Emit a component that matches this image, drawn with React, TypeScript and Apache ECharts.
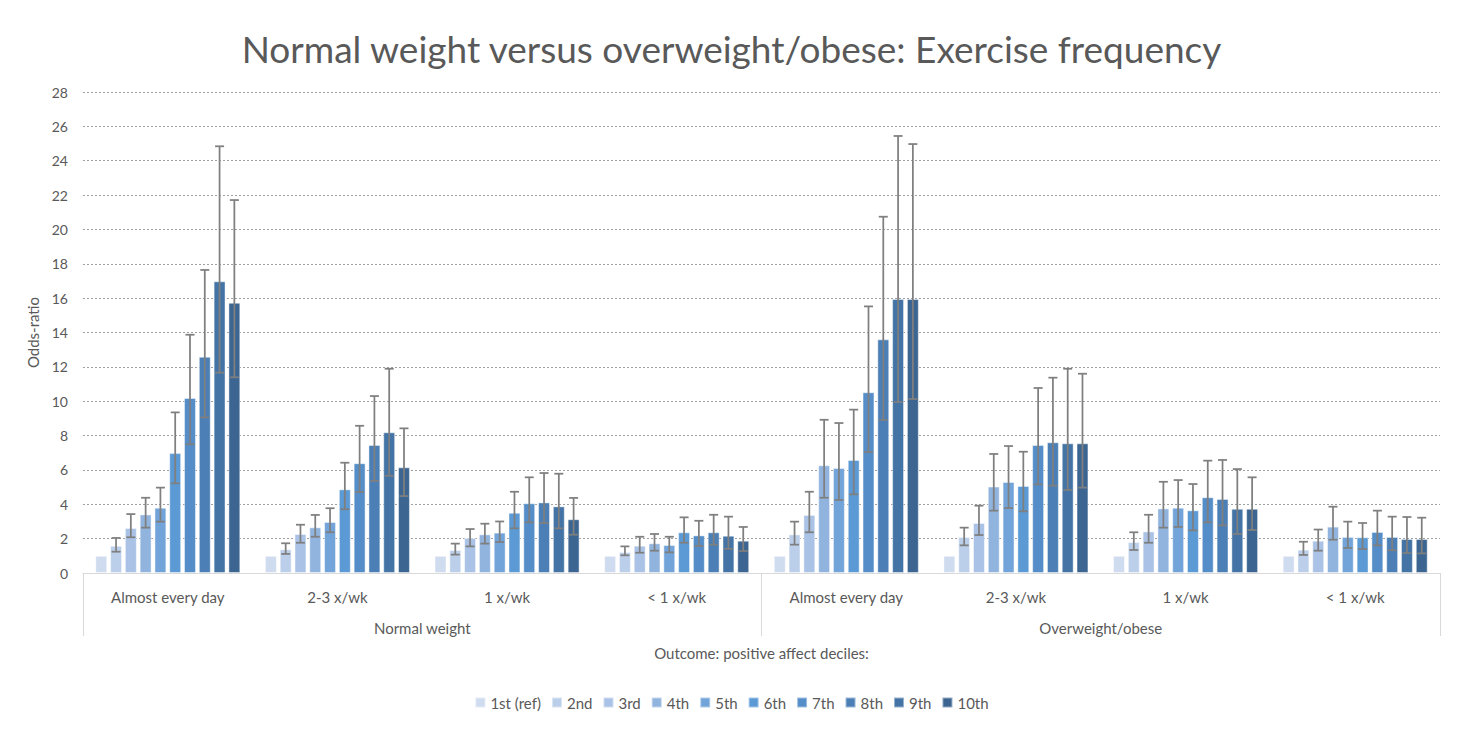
import { useEffect, useRef } from 'react';
import * as echarts from 'echarts';

// categories (inner level) and groups (outer level)
const categories = ['Almost every day', '2-3 x/wk', '1 x/wk', '< 1 x/wk', 'Almost every day', '2-3 x/wk', '1 x/wk', '< 1 x/wk'];
const groups = ['Normal weight', 'Overweight/obese'];
const deciles = ['1st (ref)', '2nd', '3rd', '4th', '5th', '6th', '7th', '8th', '9th', '10th'];
const yTicks = [0, 28, 2]; // min, max, interval

// odds-ratio per decile, across the 8 categories
const oddsRatio = [
  [1, 1, 1, 1, 1, 1, 1, 1],
  [1.59, 1.38, 1.34, 1.22, 2.25, 2.10, 1.80, 1.36],
  [2.62, 2.27, 2.04, 1.59, 3.38, 2.91, 2.42, 1.88],
  [3.41, 2.66, 2.25, 1.73, 6.27, 5.03, 3.76, 2.70],
  [3.80, 2.97, 2.35, 1.63, 6.11, 5.30, 3.80, 2.10],
  [6.98, 4.87, 3.51, 2.37, 6.58, 5.07, 3.65, 2.08],
  [10.19, 6.39, 4.06, 2.19, 10.52, 7.45, 4.41, 2.39],
  [12.59, 7.45, 4.11, 2.37, 13.60, 7.61, 4.31, 2.10],
  [16.98, 8.19, 3.88, 2.17, 15.95, 7.55, 3.74, 1.98],
  [15.73, 6.15, 3.13, 1.88, 15.95, 7.55, 3.74, 1.98]
];

// 95% CI lower bounds (1st decile is reference, no CI)
const ciLow = [
  null,
  [1.24, 1.11, 1.07, 1.03, 1.65, 1.61, 1.34, 1.05],
  [2.08, 1.76, 1.55, 1.18, 2.37, 2.21, 1.76, 1.30],
  [2.64, 2.11, 1.71, 1.30, 4.38, 3.63, 2.64, 1.94],
  [2.99, 2.37, 1.80, 1.20, 4.25, 3.78, 2.68, 1.46],
  [5.22, 3.71, 2.60, 1.76, 4.58, 3.59, 2.48, 1.40],
  [7.49, 4.71, 2.95, 1.57, 7.04, 5.16, 2.95, 1.61],
  [9.06, 5.36, 2.91, 1.65, 8.91, 5.08, 2.77, 1.32],
  [11.66, 5.66, 2.60, 1.41, 9.95, 4.83, 2.27, 1.16],
  [11.39, 4.48, 2.23, 1.28, 10.13, 4.97, 2.50, 1.14]
];

// 95% CI upper bounds
const ciHigh = [
  null,
  [2.04, 1.73, 1.71, 1.55, 2.99, 2.64, 2.37, 1.82],
  [3.43, 2.81, 2.56, 2.11, 4.73, 3.92, 3.39, 2.53],
  [4.38, 3.38, 2.87, 2.27, 8.92, 6.93, 5.31, 3.86],
  [4.97, 3.77, 3.00, 2.11, 8.73, 7.39, 5.41, 2.99],
  [9.35, 6.42, 4.73, 3.24, 9.51, 7.06, 5.18, 2.91],
  [13.87, 8.57, 5.57, 3.04, 15.52, 10.77, 6.54, 3.63],
  [17.64, 10.30, 5.82, 3.39, 20.74, 11.37, 6.58, 3.28],
  [24.84, 11.89, 5.78, 3.28, 25.44, 11.89, 6.05, 3.26],
  [21.71, 8.42, 4.37, 2.68, 24.97, 11.60, 5.57, 3.22]
];

const colors = ['#cfdbee', '#bccfea', '#a9c2e5', '#91b4df', '#72a4d9', '#5b9ad4', '#548dc7', '#4b7fb5', '#4374a5', '#3c6691'];

const FONT = 'Lato, "Open Sans", sans-serif';
const TEXT = '#595959';
const CAT_GAP = 0.145;
const BAR_GAP = 0.24;

export default function App() {
  const chartRef = useRef<HTMLDivElement>(null);

  useEffect(() => {
    document.body.style.margin = '0';
    if (!chartRef.current) return;
    const chart = echarts.init(chartRef.current, null, { renderer: 'svg' });

    // error bar items: [category, decile, low, high]
    const ciData: number[][] = [];
    for (let s = 1; s < deciles.length; s++) {
      for (let c = 0; c < categories.length; c++) {
        ciData.push([c, s, ciLow[s]![c], ciHigh[s]![c]]);
      }
    }

    const option = {
      animation: false,
      textStyle: { fontFamily: FONT, color: TEXT },
      title: {
        text: 'Normal weight versus overweight/obese: Exercise frequency',
        left: 'center',
        top: 25,
        textStyle: { fontFamily: FONT, fontSize: 37, fontWeight: 'normal', color: TEXT }
      },
      legend: {
        data: deciles,
        left: 'center',
        top: 690,
        icon: 'rect',
        itemWidth: 10,
        itemHeight: 10,
        itemGap: 10,
        textStyle: { fontFamily: FONT, fontSize: 15, color: TEXT }
      },
      grid: { left: 83, right: 23, top: 92, bottom: 165 },
      xAxis: [{
        type: 'category',
        data: categories,
        axisLine: { lineStyle: { color: '#d9d9d9', width: 1 } },
        axisTick: { show: false },
        axisLabel: { margin: 16, fontSize: 15, color: TEXT, fontFamily: FONT, interval: 0 }
      }, {
        type: 'category',
        position: 'bottom',
        data: groups,
        name: 'Outcome: positive affect deciles:',
        nameLocation: 'middle',
        nameGap: 72,
        nameTextStyle: { fontSize: 15, color: TEXT, fontFamily: FONT },
        axisLine: { show: false },
        axisTick: { show: true, length: 63, interval: 0, lineStyle: { color: '#d9d9d9', width: 1 } },
        axisLabel: { margin: 47, fontSize: 15, color: TEXT, fontFamily: FONT, interval: 0 }
      }],
      yAxis: {
        type: 'value',
        min: yTicks[0],
        max: yTicks[1],
        interval: yTicks[2],
        name: 'Odds-ratio',
        nameLocation: 'middle',
        nameGap: 42,
        nameTextStyle: { fontSize: 15, color: TEXT, fontFamily: FONT },
        axisLine: { show: false },
        axisTick: { show: false },
        axisLabel: { margin: 15, fontSize: 14, color: TEXT, fontFamily: FONT },
        splitLine: { lineStyle: { color: '#a0a0a0', type: [2, 2], width: 1 } }
      },
      series: [
        ...deciles.map((name, i) => ({
          name,
          type: 'bar',
          xAxisIndex: 0,
          barGap: BAR_GAP * 100 + '%',
          barCategoryGap: CAT_GAP * 100 + '%',
          itemStyle: { color: colors[i], borderColor: 'rgba(255,255,255,0.45)', borderWidth: 1 },
          data: oddsRatio[i]
        })),
        {
          name: 'CI',
          type: 'custom',
          xAxisIndex: 0,
          encode: { x: 0, y: [2, 3] },
          z: 3,
          data: ciData,
          renderItem: (_params: any, api: any) => {
            const c = api.value(0);
            const s = api.value(1);
            const band = api.size([1, 0])[0];
            const inner = band * (1 - CAT_GAP);
            const w = inner / (deciles.length + (deciles.length - 1) * BAR_GAP);
            const center = api.coord([c, 0])[0];
            const x = center - inner / 2 + s * w * (1 + BAR_GAP) + w / 2;
            const yLow = api.coord([c, api.value(2)])[1];
            const yHigh = api.coord([c, api.value(3)])[1];
            const half = 4.5;
            const style = { stroke: '#7f7f7f', lineWidth: 1.75 };
            return {
              type: 'group',
              children: [
                { type: 'line', shape: { x1: x, y1: yLow, x2: x, y2: yHigh }, style },
                { type: 'line', shape: { x1: x - half, y1: yHigh, x2: x + half, y2: yHigh }, style },
                { type: 'line', shape: { x1: x - half, y1: yLow, x2: x + half, y2: yLow }, style }
              ]
            };
          }
        }
      ]
    };

    chart.setOption(option as any);

    return () => {
      chart.dispose();
    };
  }, []);

  return <div ref={chartRef} style={{ width: 1463, height: 738 }} />;
}
